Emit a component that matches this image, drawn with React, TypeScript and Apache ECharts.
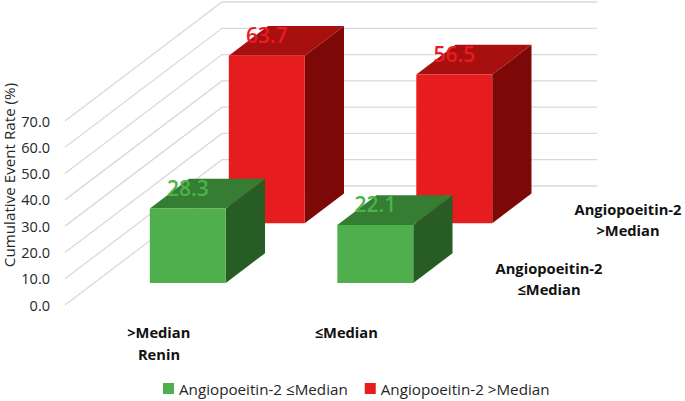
import React, { useEffect, useRef } from "react";
import * as echarts from "echarts";

const categories = [">Median", "≤Median"];
const ticks = [0, 10, 20, 30, 40, 50, 60, 70];
const greenName = "Angiopoeitin-2 ≤Median";
const redName = "Angiopoeitin-2 >Median";
const greenValues = [28.3, 22.1];
const redValues = [63.7, 56.5];
const FONT = "'Open Sans', 'Noto Sans', sans-serif";

// Oblique projection of the depth axis, in pixels across the full depth of the floor
const DEPTH_X = 157;
const DEPTH_Y = -119;
const BAR_WIDTH = 0.405; // share of category band
const BAR_DEPTH = 0.25; // share of the floor depth

function barRenderer(row: number, face: string, top: string, side: string, labelColor: string) {
  return (_params: any, api: any) => {
    const cat = api.value(0);
    const val = api.value(1);
    const base = api.coord([cat, 0]);
    const peak = api.coord([cat, val]);
    const w = api.size([1, 0])[0] * BAR_WIDTH;
    const cx = base[0] + DEPTH_X * row;
    const x0 = cx - w / 2;
    const x1 = cx + w / 2;
    const yb = base[1] + DEPTH_Y * row;
    const yt = peak[1] + DEPTH_Y * row;
    const dx = DEPTH_X * BAR_DEPTH;
    const dy = DEPTH_Y * BAR_DEPTH;
    return {
      type: "group",
      children: [
        {
          type: "polygon",
          shape: { points: [[x1, yb], [x1 + dx, yb + dy], [x1 + dx, yt + dy], [x1, yt]] },
          style: { fill: side },
        },
        {
          type: "polygon",
          shape: { points: [[x0, yt], [x1, yt], [x1 + dx, yt + dy], [x0 + dx, yt + dy]] },
          style: { fill: top },
        },
        { type: "rect", shape: { x: x0, y: yt, width: w, height: yb - yt }, style: { fill: face } },
        {
          type: "text",
          x: cx,
          y: yt - 21,
          style: {
            text: val.toFixed(1),
            fill: labelColor,
            font: `600 21px ${FONT}`,
            align: "center",
            verticalAlign: "middle",
          },
        },
      ],
    };
  };
}

function gridRenderer(params: any, api: any) {
  const p = api.coord([0, api.value(1)]);
  const cs = params.coordSys;
  const x = cs.x;
  const y = p[1];
  return {
    type: "polyline",
    shape: {
      points: [[x, y], [x + DEPTH_X, y + DEPTH_Y], [x + DEPTH_X + cs.width, y + DEPTH_Y]],
    },
    style: { stroke: "#d9d9d9", lineWidth: 1.3, fill: "none" },
  };
}

function label(text: string, x: number, y: number) {
  return {
    type: "text",
    x,
    y,
    style: {
      text,
      font: `bold 14.7px ${FONT}`,
      fill: "#111",
      align: "center",
      verticalAlign: "middle",
      lineHeight: 21,
    },
  };
}

export default function App() {
  const ref = useRef<HTMLDivElement>(null);
  useEffect(() => {
    const chart = echarts.init(ref.current!, undefined, { renderer: "svg" });
    chart.setOption({
      animation: false,
      backgroundColor: "#fff",
      grid: { left: 65, top: 121, width: 375, height: 184 },
      xAxis: {
        type: "category",
        data: categories,
        axisLine: { show: false },
        axisTick: { show: false },
        splitLine: { show: false },
        axisLabel: {
          margin: 19,
          interval: 0,
          color: "#111",
          fontFamily: FONT,
          fontWeight: "bold",
          fontSize: 14.7,
        },
      },
      yAxis: {
        type: "value",
        min: 0,
        max: 70,
        interval: 10,
        axisLine: { show: false },
        axisTick: { show: false },
        splitLine: { show: false },
        axisLabel: {
          margin: 15,
          color: "#262626",
          fontFamily: FONT,
          fontSize: 14.5,
          padding: [6, 0, 0, 0],
          formatter: (v: number) => v.toFixed(1),
        },
      },
      legend: {
        data: [greenName, redName],
        top: 381,
        left: 163,
        padding: 0,
        itemWidth: 11,
        itemHeight: 11,
        itemGap: 17,
        icon: "rect",
        textStyle: { color: "#262626", fontFamily: FONT, fontSize: 15.2 },
      },
      series: [
        {
          type: "custom",
          name: "gridlines",
          z: 1,
          silent: true,
          clip: false,
          data: ticks.map((t) => [0, t]),
          encode: { x: 0, y: 1 },
          renderItem: gridRenderer,
        },
        {
          type: "custom",
          name: greenName,
          z: 3,
          clip: false,
          itemStyle: { color: "#4eaf4c" },
          data: greenValues.map((v, i) => [i, v]),
          encode: { x: 0, y: 1 },
          renderItem: barRenderer(0.185, "#4eaf4c", "#347d33", "#275d24", "#4ab34c"),
        },
        {
          type: "custom",
          name: redName,
          z: 2,
          clip: false,
          itemStyle: { color: "#e61c1f" },
          data: redValues.map((v, i) => [i, v]),
          encode: { x: 0, y: 1 },
          renderItem: barRenderer(0.688, "#e61c1f", "#a81010", "#7c0808", "#e81c22"),
        },
      ],
      graphic: [
        {
          type: "text",
          x: 9,
          y: 175,
          rotation: Math.PI / 2,
          style: {
            text: "Cumulative Event Rate (%)",
            font: `15.2px ${FONT}`,
            fill: "#262626",
            align: "center",
            verticalAlign: "middle",
          },
        },
        label("Renin", 159, 354),
        label("Angiopoeitin-2\n≤Median", 549, 278),
        label("Angiopoeitin-2\n>Median", 628, 219),
      ],
    });
    return () => chart.dispose();
  }, []);
  return (
    <div
      ref={ref}
      style={{ position: "fixed", left: 0, top: 0, width: 685, height: 401, background: "#fff" }}
    />
  );
}
